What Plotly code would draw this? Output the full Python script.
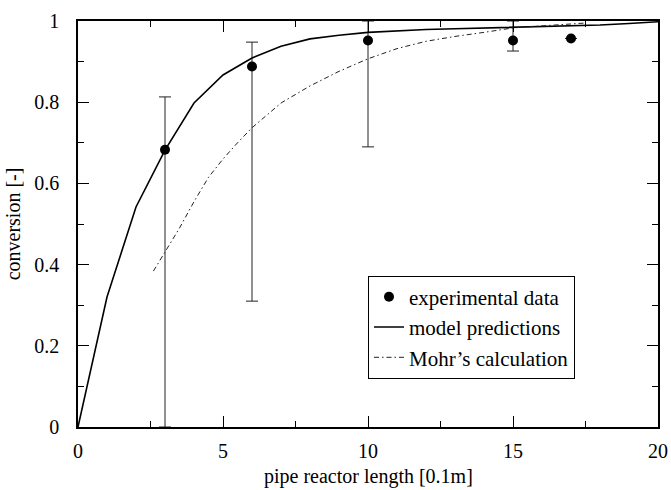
import plotly.graph_objects as go

# experimental data
exp_x = [3, 6, 10, 15, 17]
exp_y = [0.683, 0.888, 0.952, 0.952, 0.957]
exp_err_plus = [0.130, 0.060, 0.048, 0.048, None]
exp_err_minus = [0.683, 0.578, 0.262, 0.026, None]

# model predictions
model_x = [0, 1, 2, 3, 4, 5, 6, 7, 8, 9, 10, 11, 12, 13, 14, 15, 16, 17, 18, 19, 20]
model_y = [0.0, 0.32, 0.542, 0.682, 0.798, 0.867, 0.909, 0.938, 0.956, 0.965, 0.972,
           0.976, 0.979, 0.981, 0.983, 0.985, 0.986, 0.988, 0.990, 0.994, 0.998]

# Mohr's calculation
mohr_x = [2.6, 3, 3.5, 4, 4.5, 5, 5.5, 6, 7, 8, 9, 10, 11, 12, 13, 14, 15, 16, 17, 17.5]
mohr_y = [0.384, 0.431, 0.49, 0.555, 0.615, 0.66, 0.70, 0.737, 0.798, 0.84, 0.876,
          0.907, 0.932, 0.950, 0.962, 0.972, 0.983, 0.988, 0.993, 0.995]

x_title = "pipe reactor length [0.1m]"
y_title = "conversion [-]"

FONT = "Liberation Serif"

fig = go.Figure()
fig.add_trace(go.Scatter(
    x=exp_x, y=exp_y, mode="markers", name="experimental data",
    marker=dict(color="black", size=10, symbol="circle"),
    error_y=dict(type="data", symmetric=False, array=exp_err_plus,
                 arrayminus=exp_err_minus, color="#222222", thickness=1, width=6),
))
fig.add_trace(go.Scatter(
    x=model_x, y=model_y, mode="lines", name="model predictions",
    line=dict(color="black", width=1.6),
))
fig.add_trace(go.Scatter(
    x=mohr_x, y=mohr_y, mode="lines", name="Mohr\u2019s calculation",
    line=dict(color="#222222", width=1, dash="5px,3px,1.5px,3px"),
))

axis_common = dict(
    showgrid=False, zeroline=False, showline=True, linecolor="black", linewidth=1.5,
    mirror="allticks", ticks="inside", tickcolor="black", tickwidth=1.2,
    ticklen=11, automargin=False,
    tickfont=dict(family=FONT, size=20, color="black"),
)

fig.update_xaxes(range=[0, 20], tick0=0, dtick=5, ticklabelstandoff=5,
                 minor=dict(ticks="inside", ticklen=6, dtick=2.5, tickcolor="black", tickwidth=1.2),
                 **axis_common)
fig.update_yaxes(range=[0, 1], tick0=0, dtick=0.2, tickformat="~g", ticklabelstandoff=13,
                 minor=dict(ticks="inside", ticklen=6, dtick=0.1, tickcolor="black", tickwidth=1.2),
                 title=dict(text=y_title, font=dict(family=FONT, size=20, color="black"), standoff=8),
                 **axis_common)

fig.add_annotation(text=x_title, xref="paper", yref="paper", x=0.5, y=-0.122,
                   xanchor="center", yanchor="middle", showarrow=False,
                   font=dict(family=FONT, size=20, color="black"))

fig.update_layout(
    width=671, height=490,
    margin=dict(l=78, r=13, t=21, b=63),
    plot_bgcolor="white", paper_bgcolor="white",
    font=dict(family=FONT, color="black"),
    showlegend=True,
    legend=dict(x=0.5, y=0.373, xanchor="left", yanchor="top",
                bordercolor="black", borderwidth=1, bgcolor="white",
                font=dict(family=FONT, size=21, color="black"),
                tracegroupgap=0, itemwidth=30),
)

fig.write_html("out.html")
